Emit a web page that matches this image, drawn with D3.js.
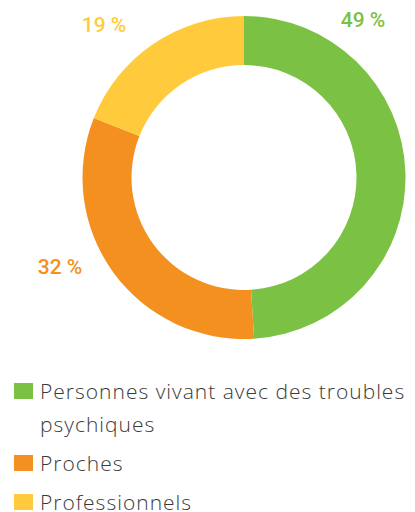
<!DOCTYPE html>
<html>
<head>
<meta charset="utf-8">
<script src="https://cdn.jsdelivr.net/npm/d3@7"></script>
<style>
  body { margin: 0; background: #fff; }
  svg { display: block; }
</style>
</head>
<body>
<div id="chart"></div>
<script>
// Data
var categories  =   ["Personnes vivant avec des troubles psychiques", "Proches", "Professionnels"];
var legend_lines =  [["Personnes vivant avec des troubles", "psychiques"], ["Proches"], ["Professionnels"]];
var values      =   [49, 32, 19];
var value_labels =  ["49 %", "32 %", "19 %"];
var colors      =   ["#7bc143", "#f39020", "#ffcb3d"];

var chart_width     =   415;
var chart_height    =   512;
var cx = 244, cy = 177.5;
var outer_r = 161.5, inner_r = 112.5;

var svg = d3.select("#chart")
    .append("svg")
    .attr("width", chart_width)
    .attr("height", chart_height);

var color = d3.scaleOrdinal().domain(categories).range(colors);

// Pie layout
var pie = d3.pie().sort(null).value(function(d){ return d; });
var arcs = pie(values);

var arc = d3.arc().innerRadius(inner_r).outerRadius(outer_r);

var g = svg.append("g").attr("transform", "translate(" + cx + "," + cy + ")");

g.selectAll("path")
    .data(arcs)
    .enter()
    .append("path")
    .attr("d", arc)
    .style("fill", function(d, i){ return color(categories[i]); });

// Value labels (placed outside the ring)
var label_pos = [
    { x: 363, y: 27 },
    { x: 60, y: 274 },
    { x: 104, y: 32 }
];

svg.selectAll("text.val")
    .data(arcs)
    .enter()
    .append("text")
    .attr("class", "val")
    .attr("x", function(d, i){ return label_pos[i].x; })
    .attr("y", function(d, i){ return label_pos[i].y; })
    .attr("text-anchor", "middle")
    .style("font-family", "Roboto, 'Liberation Sans', sans-serif")
    .style("font-size", "21px")
    .style("font-weight", "500")
    .style("fill", function(d, i){ return colors[i]; })
    .text(function(d, i){ return value_labels[i]; });

// Legend
var legend_y = [383, 455, 494];
var legend = svg.selectAll("g.legend")
    .data(categories)
    .enter()
    .append("g")
    .attr("class", "legend")
    .attr("transform", function(d, i){ return "translate(14," + legend_y[i] + ")"; });

legend.append("rect")
    .attr("width", 19)
    .attr("height", 16)
    .style("fill", function(d){ return color(d); });

legend.each(function(d, i){
    var t = d3.select(this).append("text")
        .attr("x", 26)
        .attr("y", 15.5)
        .style("font-family", "'Open Sans', sans-serif")
        .style("font-size", "21px")
        .style("font-weight", "300")
        .style("letter-spacing", "1px")
        .style("fill", "#3a3a3a");
    legend_lines[i].forEach(function(line, j){
        t.append("tspan")
            .attr("x", 26)
            .attr("dy", j === 0 ? 0 : 33)
            .text(line);
    });
});
</script>
</body>
</html>
